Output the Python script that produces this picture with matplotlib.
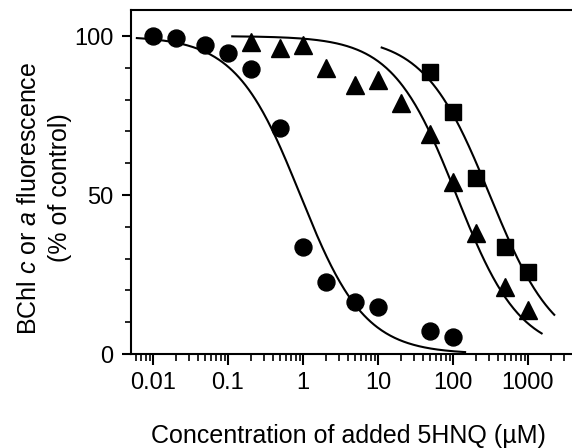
import numpy as np
import matplotlib
matplotlib.use('Agg')
import matplotlib.pyplot as plt
from matplotlib.ticker import FixedLocator, LogLocator, MultipleLocator, FuncFormatter, NullFormatter

plt.rcParams['font.family'] = ['Liberation Sans', 'DejaVu Sans']
plt.rcParams['mathtext.fontset'] = 'custom'
plt.rcParams['mathtext.rm'] = 'Liberation Sans'
plt.rcParams['mathtext.it'] = 'Liberation Sans:italic'

# measured points (concentration in uM, % of control)
conc_circ = [0.01, 0.02, 0.05, 0.1, 0.2, 0.5, 1, 2, 5, 10, 50, 100]
fl_circ = [100, 99.3, 97.2, 94.6, 89.6, 71, 33.6, 22.7, 16.5, 14.7, 7.3, 5.2]

conc_tri = [0.2, 0.5, 1, 2, 5, 10, 20, 50, 100, 200, 500, 1000]
fl_tri = [98.2, 96.3, 97.2, 90, 84.6, 86.2, 79, 69.1, 54.2, 38, 21.2, 13.8]

conc_sq = [50, 100, 200, 500, 1000]
fl_sq = [88.8, 76.2, 55.5, 33.5, 25.9]

# fitted dose-response curves: (IC50, Hill slope, x start, x end)
fit_circ = (0.92, 1.01, 0.0061, 145)
fit_tri = (111, 1.02, 0.114, 1520)
fit_sq = (309, 0.99, 11.2, 2240)

W, H = 572, 448
fig = plt.figure(figsize=(W / 100, H / 100), dpi=100)
ax = fig.add_axes([131 / W, 94 / H, 442 / W, 344 / H])

for ic50, n, x0, x1 in [fit_circ, fit_tri, fit_sq]:
    xx = np.logspace(np.log10(x0), np.log10(x1), 300)
    ax.plot(xx, 100 / (1 + (xx / ic50) ** n), color='black', lw=1.5, zorder=2)

ax.plot(conc_circ, fl_circ, 'o', color='black', ms=12.2, zorder=3)
ax.plot(conc_tri, fl_tri, '^', color='black', ms=13.5, zorder=3)
ax.plot(conc_sq, fl_sq, 's', color='black', ms=11.3, zorder=3)

ax.set_xscale('log')
ax.set_xlim(10 ** -2.293, 10 ** 3.6)
ax.set_ylim(0, 108.2)

ax.xaxis.set_major_locator(FixedLocator([0.01, 0.1, 1, 10, 100, 1000]))
ax.xaxis.set_major_formatter(FuncFormatter(lambda v, p: ('%g' % v)))
ax.xaxis.set_minor_locator(LogLocator(base=10, subs=np.arange(2, 10), numticks=20))
ax.xaxis.set_minor_formatter(NullFormatter())
ax.yaxis.set_major_locator(FixedLocator([0, 50, 100]))
ax.yaxis.set_minor_locator(MultipleLocator(10))

ax.spines['right'].set_visible(False)
for s in ['left', 'bottom', 'top']:
    ax.spines[s].set_linewidth(1.5)

ax.tick_params(axis='x', which='major', direction='out', length=8, width=1.5, labelsize=17, pad=5)
ax.tick_params(axis='x', which='minor', direction='out', length=5, width=1.2)
ax.tick_params(axis='y', which='major', direction='out', length=6.5, width=1.5, labelsize=17, pad=6)
ax.tick_params(axis='y', which='minor', direction='out', length=4, width=1.2)

fig.text(348 / W, 1 - 436 / H, 'Concentration of added 5HNQ (\u00b5M)', fontsize=18,
         ha='center', va='center')
fig.text(29.5 / W, 1 - 198 / H, 'BChl $\\mathit{c}$ or $\\mathit{a}$ fluorescence', fontsize=18,
         rotation=90, ha='center', va='center')
fig.text(59.5 / W, 1 - 188 / H, '(% of control)', fontsize=18,
         rotation=90, ha='center', va='center')

fig.savefig('out.png', dpi=100)
